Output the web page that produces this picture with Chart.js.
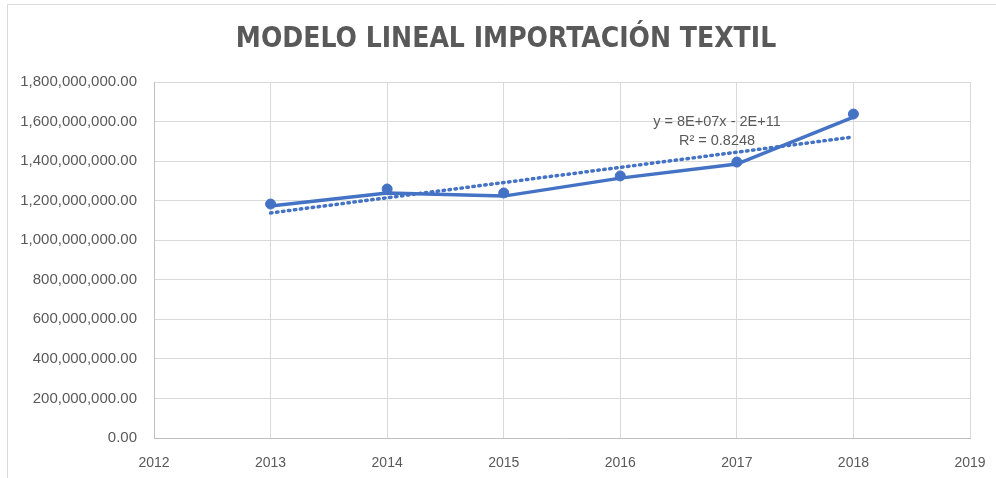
<!DOCTYPE html>
<html>
<head>
<meta charset="utf-8">
<script src="https://cdn.jsdelivr.net/npm/chart.js@4.4.0/dist/chart.umd.min.js"></script>
<style>
  html, body { margin: 0; padding: 0; background: #fff; }
  #wrap { position: relative; width: 996px; height: 478px; }
</style>
</head>
<body>
<div id="wrap"><canvas id="chart" width="996" height="478"></canvas></div>
<script>
// data
const years = [2013, 2014, 2015, 2016, 2017, 2018];
const pointValues = [1183000000, 1259000000, 1239000000, 1325000000, 1395000000, 1638000000];
const lineValues = [1173000000, 1239000000, 1223000000, 1314000000, 1385000000, 1623000000];
const trendYears = [2013, 2018];
const trendValues = [1138000000, 1522000000];
const yTicks = [0, 200000000, 400000000, 600000000, 800000000, 1000000000,
  1200000000, 1400000000, 1600000000, 1800000000];
const titleText = 'MODELO LINEAL IMPORTACIÓN TEXTIL';
const trendLabel = ['y = 8E+07x - 2E+11', 'R² = 0.8248'];

const blue = '#4472C4';
const grey = '#595959';

const toXY = (xs, ys) => xs.map((x, i) => ({ x: x, y: ys[i] }));

// outer chart border, title and trendline label
const extras = {
  id: 'extras',
  beforeDraw(chart) {
    const ctx = chart.ctx;
    ctx.save();
    ctx.strokeStyle = '#d9d9d9';
    ctx.lineWidth = 1;
    ctx.beginPath();
    ctx.moveTo(7.5, 478);
    ctx.lineTo(7.5, 4.5);
    ctx.lineTo(996, 4.5);
    ctx.stroke();
    ctx.fillStyle = grey;
    ctx.font = 'bold 28px "Liberation Sans Narrow", "DejaVu Sans Condensed", sans-serif';
    ctx.textAlign = 'center';
    ctx.textBaseline = 'middle';
    ctx.fillText(titleText, 506, 40);
    ctx.restore();
  },
  afterDatasetsDraw(chart) {
    const ctx = chart.ctx;
    ctx.save();
    ctx.fillStyle = grey;
    ctx.font = '14.5px "Liberation Sans", Arial, sans-serif';
    ctx.textAlign = 'center';
    ctx.textBaseline = 'middle';
    ctx.fillText(trendLabel[0], 717, 122);
    ctx.fillText(trendLabel[1], 717, 141);
    ctx.restore();
  }
};

new Chart(document.getElementById('chart').getContext('2d'), {
  type: 'scatter',
  data: {
    datasets: [
      {
        label: 'Puntos',
        data: toXY(years, pointValues),
        showLine: false,
        pointRadius: 5,
        pointBackgroundColor: blue,
        pointBorderColor: blue,
        order: 1
      },
      {
        label: 'Importación',
        data: toXY(years, lineValues),
        showLine: true,
        borderColor: blue,
        borderWidth: 3.5,
        pointRadius: 0,
        order: 2
      },
      {
        label: 'Lineal',
        data: toXY(trendYears, trendValues),
        showLine: true,
        borderColor: blue,
        borderWidth: 3.5,
        borderDash: [1.5, 4.5],
        borderCapStyle: 'round',
        pointRadius: 0,
        order: 3
      }
    ]
  },
  options: {
    responsive: false,
    animation: false,
    layout: { padding: { left: 0, right: 26, top: 82, bottom: 0 } },
    plugins: {
      legend: { display: false },
      tooltip: { enabled: false },
      title: { display: false }
    },
    scales: {
      x: {
        type: 'linear',
        min: 2012,
        max: 2019,
        ticks: {
          stepSize: 1,
          color: grey,
          font: { family: '"Liberation Sans", Arial, sans-serif', size: 14 },
          padding: 17,
          callback: v => String(v)
        },
        grid: { color: '#d9d9d9', drawTicks: false },
        border: { color: '#bfbfbf' },
        afterFit: s => { s.height = 40; s.paddingLeft = 0; s.paddingRight = 0; }
      },
      y: {
        min: 0,
        max: 1800000000,
        afterBuildTicks: s => { s.ticks = yTicks.map(v => ({ value: v })); },
        ticks: {
          color: grey,
          font: { family: '"Liberation Sans", Arial, sans-serif', size: 15 },
          padding: 17,
          callback: v => v.toLocaleString('en-US', { minimumFractionDigits: 2, maximumFractionDigits: 2 })
        },
        grid: { color: '#d9d9d9', drawTicks: false },
        border: { color: '#bfbfbf' },
        afterFit: s => { s.width = 154; s.paddingTop = 0; s.paddingBottom = 0; }
      }
    }
  },
  plugins: [extras]
});
</script>
</body>
</html>
